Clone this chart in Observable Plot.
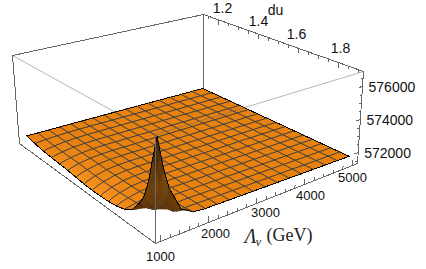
<!DOCTYPE html>
<html><head><meta charset="utf-8">
<style>html,body{margin:0;padding:0;background:#fff}svg{display:block}</style>
<script src="https://cdn.jsdelivr.net/npm/d3@7"></script>
<script src="https://cdn.jsdelivr.net/npm/@observablehq/plot@0.6"></script>
</head><body><div id="c"></div>
<script>
// ---- data ----
const lambdaNodes=[1000,1070,1140,1250,1500,1750,2000,2250,2500,2750,3000,3250,3500,3750,4000,4250,4500,4750,5000];
const duNodes=[1.145,1.1925,1.24,1.2875,1.335,1.3825,1.43,1.4775,1.525,1.5725,1.62,1.6675,1.715,1.7625,1.81,1.8325,1.8575,1.88,1.905];
const unmeshedLambda=[1070,1140];
const unmeshedDu=[1.8325,1.88];
const zBase=571000;
const zRows=[
[887,886,885,884,881,880,880,876,872,868,864,860,855,851,847,843,839,835,830],
[760,785,803,826,865,880,884,880,875,871,866,861,856,851,846,841,836,831,827],
[664,700,730,775,850,881,889,884,879,873,868,862,857,851,846,840,835,829,823],
[620,670,710,765,850,884,893,887,881,875,869,863,857,851,845,839,833,827,820],
[586,648,695,757,850,888,898,891,885,878,871,864,858,851,844,838,831,824,816],
[553,623,675,745,850,892,902,895,888,880,873,866,858,851,844,836,829,822,813],
[497,579,640,722,845,894,906,898,890,883,875,867,859,851,843,835,827,819,810],
[441,535,605,700,840,897,911,902,893,885,877,868,860,851,843,834,826,817,806],
[414,514,589,690,840,900,915,906,897,888,878,869,860,851,842,833,824,815,803],
[425,524,598,697,846,905,920,910,900,890,880,870,861,851,841,831,821,811,799],
[453,547,618,712,853,910,924,913,903,893,882,872,861,851,841,830,820,809,796],
[525,606,666,747,868,916,928,917,906,895,884,873,862,851,840,829,818,807,793],
[664,700,735,790,888,925,933,921,909,898,886,874,862,851,839,827,815,804,789],
[971,931,893,876,902,928,937,925,912,900,888,875,863,851,838,826,814,801,786],
[1667,1420,1230,1055,934,938,942,928,915,903,889,876,863,851,838,825,812,799,782],
[2168,1802,1512,1207,961,943,944,930,917,904,890,877,864,851,838,825,812,798,781],
[3059,2516,2031,1536,1022,956,946,932,919,905,892,878,864,851,837,823,810,796,779],
[4340,3588,2860,2069,1159,982,948,934,920,906,893,879,865,851,837,823,809,795,778],
[5622,4675,3783,2725,1416,1026,950,936,921,907,893,879,865,851,836,822,808,794,776]
];
const lambdaTicks=[1000,2000,3000,4000,5000];
const lambdaMinor=[1200,1400,1600,1800,2200,2400,2600,2800,3200,3400,3600,3800,4200,4400,4600,4800];
const duTicks=[1.2,1.4,1.6,1.8];
const duMinor=[1.15,1.25,1.3,1.35,1.45,1.5,1.55,1.65,1.7,1.75,1.85,1.9];
const zTicks=[572000,574000,576000];
const zMinor=[571500,572500,573000,573500,574500,575000,575500,576500];

// ---- view of the box ----
const W=426,H=269;
const Lmin=896,Lmax=5104,Dmin=1.125,Dmax=1.925,Zmin=571330,Zmax=576900;
const view={ // box corners on the page: [bottom, top]
  L:[[19,143],[12,55]],   // low lambda, low du
  B:[[203,92],[203,14]],  // high lambda, low du
  F:[[155,243],[155,134]],// low lambda, high du
  R:[[357,163],[363,71]]  // high lambda, high du
};
const mix=(a,b,t)=>a+(b-a)*t;
function project(L,d,z){
  const u=(L-Lmin)/(Lmax-Lmin),v=(d-Dmin)/(Dmax-Dmin),w=(z-Zmin)/(Zmax-Zmin);
  const at=k=>mix(
    mix(mix(view.L[0][k],view.B[0][k],u),mix(view.F[0][k],view.R[0][k],u),v),
    mix(mix(view.L[1][k],view.B[1][k],u),mix(view.F[1][k],view.R[1][k],u),v),w);
  return [at(0),at(1)];
}
const orange=d3.scaleLinear().domain([-3,-.1,.1,1.2]).range(["#c0660a","#e9810f","#e9810f","#fb9624"]).clamp(true);
const brown=d3.scaleLinear().domain([.12,.22,.45,.95]).range(["#552c04","#663808","#74440c","#33200a"]).clamp(true);

// ---- surface cells, back to front, each followed by its mesh and rim ----
const z3=(i,j)=>zBase+zRows[j][i];
const pt=(i,j)=>project(lambdaNodes[i],duNodes[j],z3(i,j));
const cells=[];
for(let j=0;j<duNodes.length-1;j++)for(let i=0;i<lambdaNodes.length-1;i++)cells.push({i,j,
  depth:(lambdaNodes[i]-Lmin)/(Lmax-Lmin)-(duNodes[j]-Dmin)/(Dmax-Dmin)});
cells.sort((a,b)=>b.depth-a.depth);
const fills=[],lines=[];let gid=0;
const rows=[];
const push=(pts,fill,stroke,sw)=>{const z=gid++;pts.forEach(p=>rows.push({x:p[0],y:p[1],z,fill,stroke,sw}));};
const mesh="#2a3846",rim="#000";
const lastI=lambdaNodes.length-1,lastJ=duNodes.length-1;
for(const {i,j} of cells){
  const a=pt(i,j),b=pt(i+1,j),c=pt(i+1,j+1),d=pt(i,j+1);
  const area=((b[0]-a[0])*(d[1]-a[1])-(b[1]-a[1])*(d[0]-a[0]))+((c[0]-d[0])*(c[1]-b[1])-(c[1]-d[1])*(c[0]-b[0]));
  const fr=(z3(i,j)+z3(i+1,j)+z3(i+1,j+1)+z3(i,j+1))/4;
  const f=(fr-Zmin)/(Zmax-Zmin);
  const du=(lambdaNodes[i+1]-lambdaNodes[i])/(Lmax-Lmin);
  const slope=((z3(i+1,j)+z3(i+1,j+1))-(z3(i,j)+z3(i,j+1)))/2/(Zmax-Zmin)/du;
  const under=area<0||f>.135;
  const col=under?brown(f):orange(slope);
  push([a,b,c,d,a],col,col,0.5);
  const meshL=k=>!unmeshedLambda.includes(lambdaNodes[k]);
  const meshD=k=>!unmeshedDu.includes(duNodes[k]);
  const mc=under?"#4a4a44":mesh, mw=under?.6:.8;
  const edge=(p,q,isRim,isMesh)=>{if(isRim)push([p,q],"none",rim,1);else if(isMesh)push([p,q],"none",mc,mw);};
  edge(a,b,j===0,meshD(j));
  edge(d,c,j+1===lastJ,meshD(j+1));
  edge(a,d,i===0,meshL(i));
  edge(b,c,i+1===lastI,meshL(i+1));
}

// ---- box ----
const seg=(list)=>list.flatMap((p,k)=>p.map(q=>{const r=project(...q);return {x:r[0],y:r[1],z:k};}));
const backBox=seg([
  [[Lmin,Dmin,Zmin],[Lmin,Dmin,Zmax],[Lmax,Dmin,Zmax],[Lmax,Dmax,Zmax],[Lmax,Dmax,Zmin],[Lmin,Dmax,Zmin],[Lmin,Dmin,Zmin]],
  [[Lmax,Dmin,Zmin],[Lmax,Dmin,Zmax]]
]);
const frontBox=seg([[[Lmin,Dmax,Zmin],[Lmin,Dmax,Zmax]]]);
const frontTop=seg([[[Lmin,Dmin,Zmax],[Lmin,Dmax,Zmax],[Lmax,Dmax,Zmax]]]);
const ticks=seg([
  ...lambdaTicks.map(L=>[[L,Dmax,Zmin],[L,Dmax,Zmin+300]]),
  ...lambdaMinor.map(L=>[[L,Dmax,Zmin],[L,Dmax,Zmin+170]]),
  ...duTicks.map(d=>[[Lmax,d,Zmax],[Lmax,d,Zmax-300]]),
  ...duMinor.map(d=>[[Lmax,d,Zmax],[Lmax,d,Zmax-170]]),
  ...zTicks.map(z=>[[Lmax,Dmax,z],[Lmax-70,Dmax,z]]),
  ...zMinor.map(z=>[[Lmax,Dmax,z],[Lmax-40,Dmax,z]])
]);
// ---- labels ----
const lamOff={1000:[0,15],2000:[7,11],3000:[9,9],4000:[6,11],5000:[0,12]};
const lamLabels=lambdaTicks.map(L=>{const p=project(L,Dmax,Zmin);return {x:p[0]+lamOff[L][0],y:p[1]+lamOff[L][1],t:String(L)};});
const duOff={1.2:[4,-11],1.4:[0,-12.6],1.6:[-2,-14],1.8:[2,-14]};
const duLabels=duTicks.map(d=>{const p=project(Lmax,d,Zmax);return {x:p[0]+duOff[d][0],y:p[1]+duOff[d][1],t:d.toFixed(1)};});
const zLabels=zTicks.map(z=>{const p=project(Lmax,Dmax,z);return {x:p[0]+6,y:p[1]+1,t:String(z)};});
const anchor=project(3000,Dmax,Zmin);
const duTitle=project(Lmax,1.5,Zmax);
const sans="Liberation Sans, Arial, sans-serif",serif="Liberation Serif, Times New Roman, serif";
const gray="#666";
const crisp={shapeRendering:"crispEdges"};
const line=(data,o)=>Plot.line(data,{x:"x",y:"y",z:"z",...o});
const chart=Plot.plot({
  width:W,height:H,margin:0,
  x:{domain:[0,W],range:[0,W],axis:null},
  y:{domain:[0,H],range:[0,H],axis:null},
  color:{type:"identity"},
  style:{background:"#fff"},
  marks:[
    line(backBox,{stroke:gray,strokeWidth:1,...crisp}),
    line(ticks,{stroke:gray,strokeWidth:1,...crisp}),
    Plot.line(rows,{x:"x",y:"y",z:"z",fill:"fill",stroke:"stroke",strokeWidth:"sw",...crisp}),
    line(frontTop,{stroke:gray,strokeWidth:0.8,strokeOpacity:.6,...crisp}),
    line(frontBox,{stroke:gray,strokeWidth:1.25,...crisp}),
    Plot.text(lamLabels,{x:"x",y:"y",text:"t",fontFamily:sans,fontSize:13,fill:"#111"}),
    Plot.text(duLabels,{x:"x",y:"y",text:"t",fontFamily:sans,fontSize:14,fill:"#111"}),
    Plot.text(zLabels,{x:"x",y:"y",text:"t",textAnchor:"start",fontFamily:sans,fontSize:14,fill:"#111"}),
    Plot.text(["du"],{x:()=>duTitle[0]-3,y:()=>duTitle[1]-31,text:d=>d,fontFamily:sans,fontSize:14,fill:"#111"}),
    Plot.text(["Λ"],{x:()=>anchor[0]-6,y:()=>anchor[1]+33,text:d=>d,fontFamily:serif,fontStyle:"italic",fontSize:20,fill:"#222"}),
    Plot.text(["v"],{x:()=>anchor[0]+2,y:()=>anchor[1]+39,text:d=>d,fontFamily:serif,fontStyle:"italic",fontSize:12,fill:"#222"}),
    Plot.text(["(GeV)"],{x:()=>anchor[0]+10,y:()=>anchor[1]+32,text:d=>d,textAnchor:"start",fontFamily:serif,fontSize:18,fill:"#222"})
  ]
});
document.getElementById("c").append(chart);
</script></body></html>
